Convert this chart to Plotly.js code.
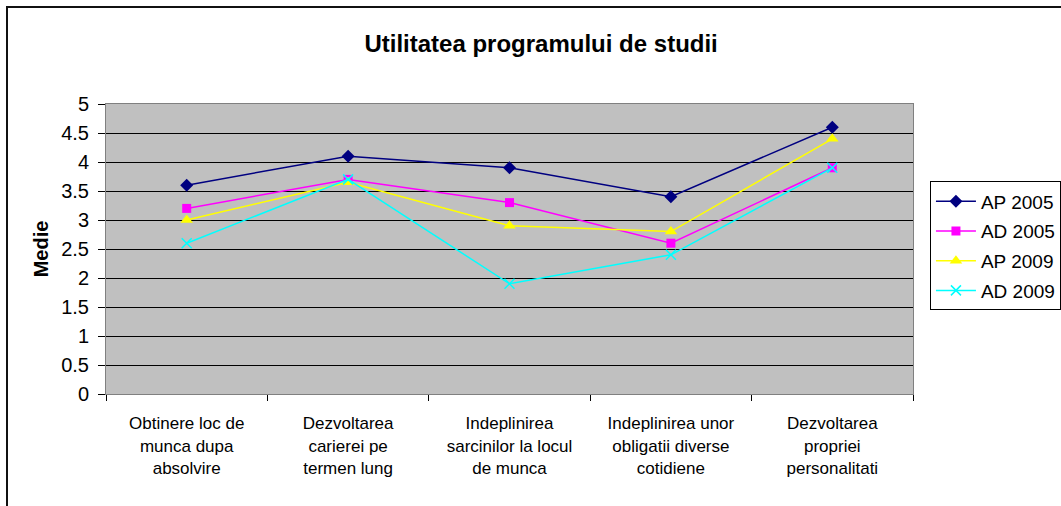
<!DOCTYPE html>
<html>
<head>
<meta charset="utf-8">
<script src="https://cdn.plot.ly/plotly-3.0.1.min.js"></script>
<style>
  body { margin:0; background:#fff; }
  #frame { position:absolute; left:6px; top:6px; width:1100px; height:520px;
           border-left:2px solid #111; border-top:2px solid #111; }
  #chart { position:absolute; left:0; top:0; width:1061px; height:506px; }
</style>
</head>
<body>
<div id="frame"></div>
<div id="chart"></div>
<script>
// categories (x axis, multi-line labels)
const categories = [
  'Obtinere loc de<br>munca dupa<br>absolvire',
  'Dezvoltarea<br>carierei pe<br>termen lung',
  'Indeplinirea<br>sarcinilor la locul<br>de munca',
  'Indeplinirea unor<br>obligatii diverse<br>cotidiene',
  'Dezvoltarea<br>propriei<br>personalitati'
];
// series values
const ap2005 = [3.6, 4.1, 3.9, 3.4, 4.6];
const ad2005 = [3.2, 3.7, 3.3, 2.6, 3.9];
const ap2009 = [3.0, 3.65, 2.9, 2.8, 4.4];
const ad2009 = [2.6, 3.7, 1.9, 2.4, 3.9];

const yTicks = [0, 0.5, 1, 1.5, 2, 2.5, 3, 3.5, 4, 4.5, 5];

function serie(name, y, color, symbol, size){
    return {
        type: 'scatter',
        mode: 'lines+markers',
        name: name,
        legendgroup: name,
        x: categories,
        y: y,
        line: { color: color, width: 1.5 },
        marker: { color: color, symbol: symbol, size: size,
                  line: { color: color, width: symbol === 'x-thin' ? 1.5 : 0 } }
    };
}

let data = [
    serie('AP 2005', ap2005, '#000080', 'diamond', 10),
    serie('AD 2005', ad2005, '#FF00FF', 'square', 9),
    serie('AP 2009', ap2009, '#FFFF00', 'triangle-up', 11),
    serie('AD 2009', ad2009, '#00FFFF', 'x-thin', 10)
];

let layout = {
    width: 1061,
    height: 506,
    paper_bgcolor: 'rgba(0,0,0,0)',
    plot_bgcolor: '#C0C0C0',
    font: { family: 'Liberation Sans, Arial, sans-serif', size: 17, color: '#000' },
    margin: { l: 106, r: 148, t: 104, b: 112, autoexpand: false },
    title: {
        text: '<b>Utilitatea programului de studii</b>',
        font: { size: 24 },
        x: 0.51, xref: 'container', xanchor: 'center',
        y: 0.913, yref: 'container', yanchor: 'middle'
    },
    xaxis: {
        type: 'category',
        tickson: 'boundaries',
        ticks: 'outside',
        ticklen: 6,
        tickcolor: '#000',
        ticklabelstandoff: 14,
        showgrid: false,
        showline: true,
        linecolor: '#808080',
        linewidth: 1,
        mirror: true,
        tickfont: { size: 17 },
        range: [-0.5, 4.5]
    },
    yaxis: {
        range: [0, 5],
        tickvals: yTicks,
        ticktext: yTicks.map(String),
        ticks: 'outside',
        ticklen: 7,
        tickcolor: '#000',
        ticklabelstandoff: 5,
        showgrid: true,
        gridcolor: '#000',
        gridwidth: 1,
        zeroline: false,
        showline: true,
        linecolor: '#808080',
        linewidth: 1,
        mirror: true,
        tickfont: { size: 20 },
        title: { text: '<b>Medie</b>', font: { size: 20 }, standoff: 7 }
    },
    showlegend: true,
    legend: {
        x: 1.021, xanchor: 'left',
        y: 0.733, yanchor: 'top',
        bgcolor: '#fff',
        bordercolor: '#000',
        borderwidth: 1,
        font: { size: 19 },
        tracegroupgap: 2,
        itemwidth: 40
    }
};

Plotly.newPlot('chart', data, layout, {displayModeBar: false, staticPlot: true});
</script>
</body>
</html>
